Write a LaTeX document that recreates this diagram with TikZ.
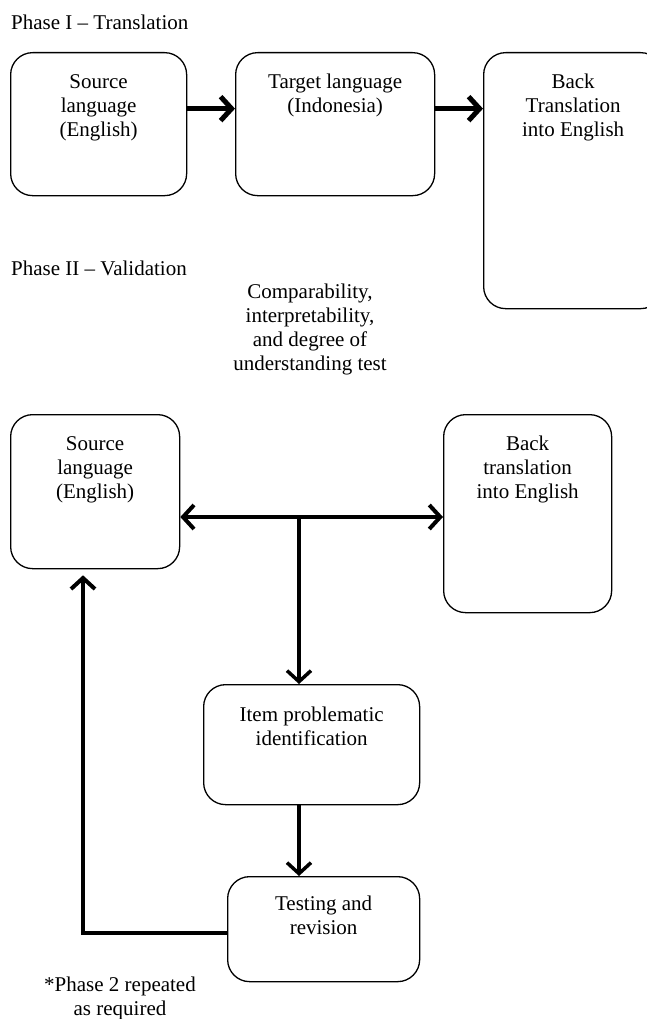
\documentclass[tikz,border=0pt]{standalone}
\usepackage{fontspec}
\setmainfont{Liberation Serif}
\usetikzlibrary{arrows.meta,positioning}
\tikzset{
  stage/.style={draw,line width=1.3pt,rounded corners=22pt,anchor=north west,inner sep=0pt},
  stagetext/.style={align=center,inner sep=0pt,font=\fontsize{21}{24}\selectfont},
  flow/.style={line width=4pt,->},
}
\NewDocumentCommand\Stage{O{22}mmmmm}%
{%
\node[stage,minimum width=#4,minimum height=#5] (#2) at (#3) {};%
\node[stagetext,below=#1pt of #2.north] (#2-t) {#6};%
}

\begin{document}
\begin{tikzpicture}[x=1pt,y=-1pt,>={Straight Barb[length=11pt,width=24pt]},font=\fontsize{21}{24}\selectfont]
\useasboundingbox (0,0) rectangle (647,1019);
% Phase I
\node[anchor=west,inner sep=0pt] (ph1) at (11,22) {Phase I – Translation};
\Stage{src1}{10,52}{176pt}{143pt}{Source\\language\\(English)}
\Stage{tgt}{235,52}{199pt}{143pt}{Target language\\(Indonesia)}
\Stage{back1}{483,52}{179pt}{256pt}{Back\\Translation\\into English}
\draw[flow,line width=5pt] ([yshift=15.5pt]src1.east) coordinate (a1) -- (tgt.west |- a1);
\draw[flow,line width=5pt] (tgt.east |- a1) -- (back1.west |- a1);
% Phase II
\node[anchor=west,inner sep=0pt] (ph2) at (11,268) {Phase II – Validation};
\node[stagetext] (crit) at (310,329) {Comparability,\\interpretability,\\and degree of\\understanding test};
\Stage{src2}{10,414}{169pt}{154pt}{Source\\language\\(English)}
\Stage{back2}{443,414}{168pt}{198pt}{Back\\translation\\into English}
\Stage[23]{item}{203,684}{216pt}{120pt}{Item problematic\\identification}
\Stage[20]{test}{227,876}{192pt}{105pt}{Testing and\\revision}
\coordinate (split) at (299,517);
\draw[flow,<->] (src2.east |- split) -- (back2.west |- split);
\draw[flow,line width=3.5pt] (split) -- (split |- item.north);
\draw[flow,line width=3.5pt] (split |- item.south) -- (split |- test.north);
\coordinate (turn) at (83,933);
\draw[flow,shorten >=6pt] (test.west |- turn) -- (turn) -- (turn |- src2.south);
\node[stagetext] (note) at (120,998) {*Phase 2 repeated\\as required};
\end{tikzpicture}
\end{document}
